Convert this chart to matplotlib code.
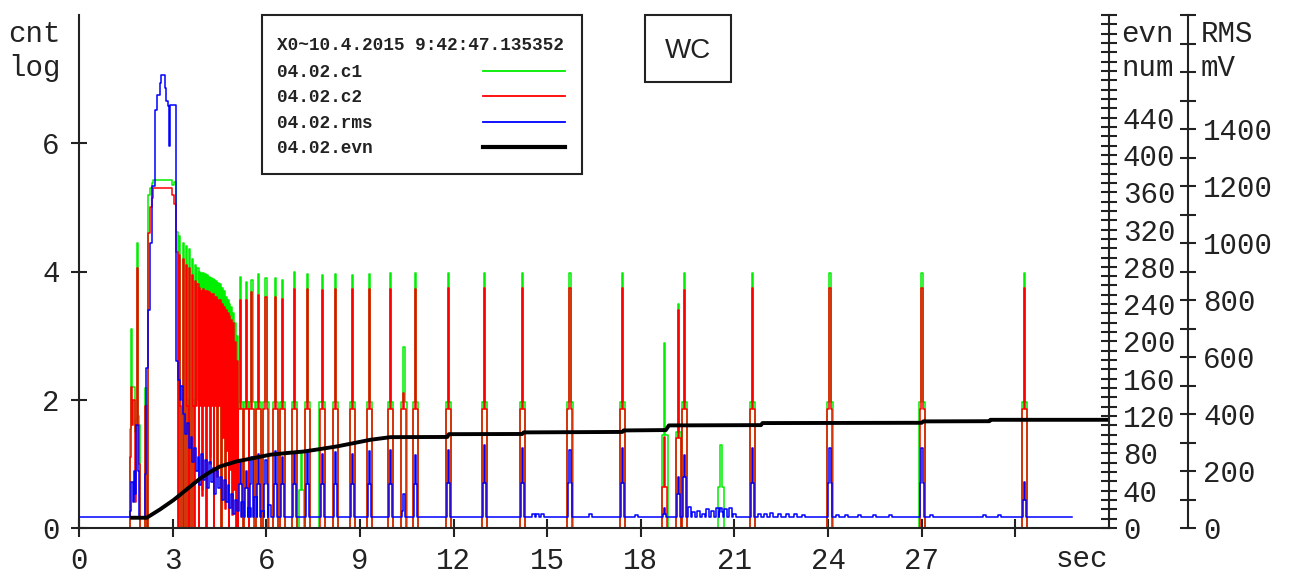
import matplotlib
matplotlib.use('Agg')
import matplotlib.pyplot as plt
from matplotlib.lines import Line2D
from matplotlib.patches import Rectangle
from matplotlib.ticker import FixedLocator, MultipleLocator

# ---- data ----
# early part (shared time base for c1 / c2), s
early_t = [0.0, 1.62, 1.66, 1.70, 1.74, 1.78, 1.82, 1.85, 1.89, 1.93, 1.97, 2.12, 2.18, 2.22, 2.27, 2.33, 2.37, 2.98, 3.04]
early_c1 = [0.0, 1.55, 3.10, 2.20, 2.20, 1.50, 1.70, 4.45, 1.75, 1.60, 0.0, 2.18, 0.0, 5.20, 5.30, 5.38, 5.43, 5.35, 5.40]
early_c2 = [0.0, 1.10, 2.20, 1.60, 2.00, 0.40, 1.60, 4.05, 1.60, 1.00, 0.0, 1.90, 0.0, 4.60, 5.00, 5.15, 5.30, 5.20, 5.05]

# dense burst after the main hump
burst_t = [3.11, 3.17, 3.20, 3.24, 3.27, 3.33, 3.37, 3.43, 3.47, 3.50, 3.53, 3.57, 3.62, 3.66, 3.69,
           3.72, 3.76, 3.79, 3.83, 3.86, 3.89, 3.92, 3.95, 3.98, 4.01, 4.04, 4.07, 4.10, 4.13, 4.16,
           4.19, 4.22, 4.25, 4.28, 4.31, 4.34, 4.37, 4.40, 4.43, 4.46, 4.49, 4.52, 4.55, 4.58, 4.61,
           4.64, 4.67, 4.70, 4.73, 4.76, 4.79, 4.82, 4.85, 4.88, 4.91, 4.94, 4.97, 5.00, 5.03, 5.06, 5.09]
burst_c1 = [4.62, 0.0, 4.55, 2.0, 0.0, 4.45, 0.0, 4.40, 2.0, 0.0, 4.35, 0.0, 4.20, 2.0, 0.0,
            4.10, 2.0, 4.05, 0.0, 4.00, 2.0, 3.98, 0.6, 3.98, 2.0, 3.96, 0.0, 3.95, 2.0, 3.92,
            1.1, 3.90, 2.0, 3.88, 0.0, 3.86, 2.0, 3.85, 0.9, 3.82, 2.0, 3.80, 0.0, 3.75, 1.5,
            3.70, 0.4, 3.60, 1.3, 3.55, 0.0, 3.50, 1.0, 3.45, 0.3, 3.35, 0.7, 3.20, 0.0, 3.00, 0.0]
burst_c2 = [4.30, 0.0, 4.25, 1.9, 0.0, 4.20, 0.0, 4.10, 1.9, 0.0, 4.05, 0.0, 3.95, 1.9, 0.0,
            3.85, 1.9, 3.80, 0.0, 3.75, 1.9, 3.70, 0.5, 3.72, 1.9, 3.70, 0.0, 3.70, 1.9, 3.68,
            1.0, 3.65, 1.9, 3.65, 0.0, 3.60, 1.9, 3.60, 0.8, 3.55, 1.9, 3.55, 0.0, 3.50, 1.4,
            3.45, 0.3, 3.40, 1.2, 3.35, 0.0, 3.30, 0.9, 3.25, 0.2, 3.20, 0.6, 2.90, 0.0, 2.60, 0.0]

# RMS (mV) early hump and its decay
rms_early_t = [0.0, 1.64, 1.68, 1.72, 1.76, 1.80, 1.84, 1.88, 1.92, 2.10, 2.15, 2.20, 2.27, 2.34, 2.42,
               2.50, 2.58, 2.62, 2.76, 2.80, 2.85, 2.89, 2.93, 3.11, 3.18, 3.24, 3.28, 3.34, 3.40, 3.46,
               3.52, 3.58, 3.62, 3.68, 3.74, 3.80, 3.86, 3.92, 3.98, 4.04, 4.10, 4.16, 4.22, 4.28, 4.34,
               4.40, 4.46, 4.52, 4.58, 4.64, 4.70, 4.76, 4.82, 4.88, 4.94, 5.00, 5.06]
rms_early = [38, 60, 160, 90, 200, 120, 360, 200, 38, 190, 560, 765, 1000, 1200, 1467,
             1521, 1560, 1590, 1544, 1499, 1480, 1340, 1485, 585, 520, 450, 500, 400, 330, 370,
             280, 320, 230, 280, 200, 250, 150, 260, 170, 240, 140, 230, 160, 210, 120,
             200, 140, 180, 100, 170, 90, 150, 70, 120, 50, 100, 60]

# isolated bursts (s) with peak / shoulder heights
ev_t = [5.17, 5.36, 5.54, 5.75, 5.99, 6.29, 6.52, 6.90, 7.12, 7.33, 7.79, 8.21, 8.77, 9.31, 9.98,
        10.41, 10.78, 11.83, 13.00, 14.20, 15.73, 17.41, 18.77, 19.21, 19.40, 20.57, 21.58, 24.06,
        27.01, 30.29]
ev_c1 = [3.91, 3.83, 3.87, 3.96, 3.90, 3.90, 3.86, 3.99, 1.20, 3.96, 3.94, 3.96, 3.94, 3.96, 3.97,
         2.83, 3.97, 3.98, 3.98, 3.98, 3.98, 3.98, 2.88, 3.50, 3.97, 1.30, 3.98, 3.98, 3.98, 3.98]
ev_c1_sh = [1.97, 1.97, 1.97, 1.97, 1.97, 1.97, 1.97, 1.97, 0.60, 1.97, 1.97, 1.97, 1.97, 1.97, 1.97,
            1.97, 1.97, 1.97, 1.97, 1.97, 1.97, 1.97, 1.45, 1.50, 1.97, 0.64, 1.97, 1.97, 1.97, 1.97]
ev_c2 = [3.56, 3.56, 3.68, 3.63, 3.60, 3.60, 3.57, 3.73, 0.0, 3.73, 3.71, 3.73, 3.73, 3.73, 3.73,
         2.10, 3.73, 3.75, 3.75, 3.75, 3.75, 3.75, 1.42, 3.40, 3.71, 0.0, 3.75, 3.75, 3.75, 3.75]
ev_c2_sh = [1.85, 1.85, 1.85, 1.85, 1.85, 1.85, 1.85, 1.85, 0.0, 1.85, 1.85, 1.85, 1.85, 1.85, 1.85,
            1.85, 1.85, 1.85, 1.85, 1.85, 1.85, 1.85, 0.64, 1.40, 1.85, 0.0, 1.85, 1.85, 1.85, 1.85]
ev_rms = [230, 200, 250, 260, 240, 270, 250, 260, 38, 270, 260, 265, 260, 270, 275,
          120, 257, 274, 292, 282, 274, 280, 70, 180, 256, 70, 280, 280, 280, 160]
ev_rms_sh = [155, 140, 155, 155, 155, 155, 155, 155, 38, 155, 155, 155, 155, 155, 155,
             60, 155, 158, 158, 158, 158, 158, 50, 120, 180, 55, 158, 158, 158, 100]

# small RMS wiggles on the baseline (s, mV)
bump_t = [5.25, 5.45, 5.65, 5.87, 6.10, 14.55, 14.70, 14.85, 16.40, 17.85, 19.55, 19.70, 19.85,
          20.00, 20.15, 20.30, 20.45, 20.72, 20.87, 21.00, 21.80, 22.00, 22.20, 22.45, 22.70,
          22.95, 23.20, 24.30, 24.60, 25.00, 25.50, 26.00, 27.30, 29.00, 29.50]
bump_v = [90, 70, 110, 60, 80, 48, 48, 48, 48, 45, 75, 55, 60, 50, 65, 60, 70, 65, 70, 50,
          50, 48, 52, 50, 48, 50, 47, 45, 45, 45, 45, 45, 45, 45, 45]

# event counter
evn_t = [1.64, 2.17, 2.60, 3.03, 3.40, 3.88, 4.20, 4.52, 5.06, 5.60, 6.13, 6.70, 7.20, 7.70, 8.27,
         8.80, 9.34, 9.98, 11.80, 11.85, 14.20, 14.25, 17.41, 17.45, 18.80, 18.90, 21.85, 21.90,
         27.00, 27.05, 29.17, 29.20, 33.00]
evn = [11, 11, 20, 30, 40, 53, 60, 66, 71.5, 75, 78.6, 80.5, 82, 84.5, 87.5,
       91, 94.6, 97.4, 97.6, 100.6, 100.8, 102.5, 103, 104.6, 105, 110, 110.3, 112.5,
       112.8, 114.3, 114.5, 116, 116]

RMS_BASE = 38
T_END = 31.8

x_ticks = [0, 3, 6, 9, 12, 15, 18, 21, 24, 27, 30]
x_labels = ['0', '3', '6', '9', '12', '15', '18', '21', '24', '27', '']
legend_names = ['04.02.c1', '04.02.c2', '04.02.rms', '04.02.evn']
header = 'X0~10.4.2015 9:42:47.135352'


def pulses(t0s, peaks, shoulders, base, hw, hp):
    t, v = [], []
    for t0, pk, sh in sorted(zip(t0s, peaks, shoulders)):
        t += [t0 - hw, t0 - hp, t0 + hp, t0 + hw]
        v += [sh, pk, sh, base]
    return t, v


W, H = 1295, 573
MONO = 'Liberation Mono'
INK = '#222222'

def fx(px):
    return px / W

def fy(py):
    return 1 - py / H


fig = plt.figure(figsize=(W / 100, H / 100), dpi=100)
ax = fig.add_axes([fx(79), fy(528), (1109 - 79) / W, (528 - 15) / H])
ax.patch.set_visible(False)
ax2 = ax.twinx()   # evn num
ax3 = ax.twinx()   # RMS mV
ax.set_zorder(1)
ax3.set_zorder(2)
ax2.set_zorder(3)

# c1 / c2
pt, pv = pulses(ev_t, ev_c1, ev_c1_sh, 0.0, 0.085, 0.02)
c1_t = early_t + burst_t + pt + [T_END]
c1_v = early_c1 + burst_c1 + pv + [0.0]
pt, pv = pulses(ev_t, ev_c2, ev_c2_sh, 0.0, 0.08, 0.018)
c2_t = early_t + burst_t + pt + [T_END]
c2_v = early_c2 + burst_c2 + pv + [0.0]
ax.plot(c1_t, c1_v, color='#00ee00', lw=1.1, drawstyle='steps-post', clip_on=False)
ax.plot(c2_t, c2_v, color='#ff0000', lw=1.1, drawstyle='steps-post', clip_on=False)

# rms
pt, pv = pulses(ev_t + bump_t, ev_rms + bump_v, ev_rms_sh + bump_v, RMS_BASE, 0.05, 0.02)
r_t = rms_early_t + pt + [T_END]
r_v = rms_early + pv + [RMS_BASE]
ax3.plot(r_t, r_v, color='#0000ff', lw=1.1, drawstyle='steps-post')

# evn
ax2.plot(evn_t, evn, color='black', lw=2.8, solid_capstyle='butt')

# axes limits / spines
ax.set_xlim(0, 33)
ax.set_ylim(0, 8)
ax2.set_ylim(0, 550)
ax3.set_ylim(0, 1800)

for s in ['top', 'right']:
    ax.spines[s].set_visible(False)
for s in ['left', 'bottom']:
    ax.spines[s].set_linewidth(1.5)
    ax.spines[s].set_color(INK)
for a in (ax2, ax3):
    for s in ['top', 'left', 'bottom']:
        a.spines[s].set_visible(False)
    a.spines['right'].set_linewidth(1.5)
    a.spines['right'].set_color(INK)
ax3.spines['right'].set_position(('axes', (1188 - 79) / (1109 - 79)))

ax.set_xticks(x_ticks)
ax.set_xticklabels(x_labels, family=MONO, fontsize=21, color=INK)
ax.tick_params(axis='x', direction='inout', length=13, width=1.5, color=INK, pad=7)
ax.set_yticks([0, 2, 4, 6])
ax.set_yticklabels(['0', '2', '4', '6'], family=MONO, fontsize=21, color=INK)
ax.tick_params(axis='y', direction='inout', length=12, width=1.5, color=INK, pad=8)

evn_major = list(range(0, 441, 40))
ax2.yaxis.set_major_locator(FixedLocator(evn_major))
ax2.yaxis.set_minor_locator(MultipleLocator(10))
ax2.set_yticklabels([str(v) for v in evn_major], family=MONO, fontsize=21, color=INK)
ax2.tick_params(axis='y', which='both', direction='inout', length=12, width=1.5, color=INK, pad=4)

rms_major = list(range(0, 1401, 200))
ax3.yaxis.set_major_locator(FixedLocator(rms_major))
ax3.yaxis.set_minor_locator(MultipleLocator(100))
ax3.set_yticklabels([str(v) for v in rms_major], family=MONO, fontsize=21, color=INK)
ax3.tick_params(axis='y', which='both', direction='inout', length=12, width=1.5, color=INK, pad=5)

# unit labels
txt = dict(family=MONO, fontsize=21, color=INK, va='baseline', ha='left')
fig.text(fx(8), fy(42), 'cnt', **txt)
fig.text(fx(8), fy(76), 'log', **txt)
fig.text(fx(1121), fy(42), 'evn', **txt)
fig.text(fx(1121), fy(76), 'num', **txt)
fig.text(fx(1201), fy(42), 'RMS', **txt)
fig.text(fx(1201), fy(76), 'mV', **txt)
fig.text(fx(1082), fy(567), 'sec', family=MONO, fontsize=21, color=INK, va='baseline', ha='center')

# legend box
fig.add_artist(Rectangle((fx(262), fy(174)), (582 - 262) / W, (174 - 15) / H,
                         transform=fig.transFigure, fill=False, lw=1.5, ec=INK, zorder=10))
lt = dict(family=MONO, fontsize=12.8, weight='bold', color=INK, va='baseline', ha='left', zorder=10)
fig.text(fx(277), fy(50), header, **lt)
leg_colors = ['#00ee00', '#ff0000', '#0000ff', 'black']
leg_lw = [1.3, 1.3, 1.3, 3.0]
for i, name in enumerate(legend_names):
    fig.text(fx(277), fy(77 + 25.3 * i), name, **lt)
    yl = fy(71 + 25.3 * i)
    fig.add_artist(Line2D([fx(483), fx(565)], [yl, yl], transform=fig.transFigure,
                          color=leg_colors[i], lw=leg_lw[i], zorder=10))

# WC box
fig.add_artist(Rectangle((fx(645), fy(82)), (731 - 645) / W, (82 - 15) / H,
                         transform=fig.transFigure, fill=False, lw=1.5, ec=INK, zorder=10))
fig.text(fx(688), fy(51), 'WC', family='Liberation Sans', fontsize=20, color=INK,
         ha='center', va='center', zorder=10)

fig.savefig('out.png', dpi=100)
